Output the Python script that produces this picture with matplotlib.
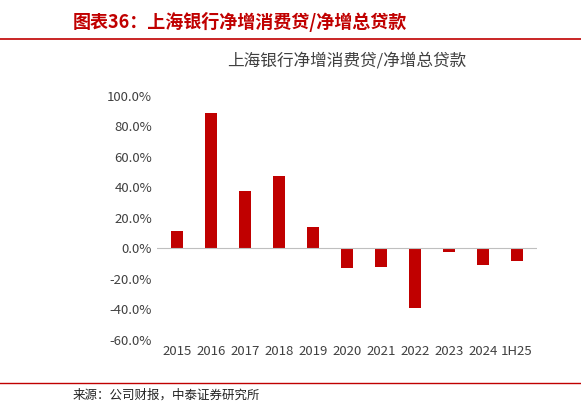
import matplotlib.pyplot as plt
from matplotlib.ticker import FuncFormatter

plt.rcParams['font.family'] = ['Noto Sans CJK SC', 'DejaVu Sans']

years = ["2015", "2016", "2017", "2018", "2019", "2020", "2021", "2022", "2023", "2024", "1H25"]
ratio = [11.0, 88.5, 37.5, 47.5, 14.0, -13.0, -12.5, -39.0, -2.5, -11.0, -8.5]

fig = plt.figure(figsize=(5.81, 4.07), dpi=100)
red = "#c00000"

fig.text(0.125, 0.945, "图表36：上海银行净增消费贷/净增总贷款", color=red,
         fontsize=13, fontweight="bold", style="italic", va="center")
fig.add_artist(plt.Line2D([0.0, 1.0], [0.905, 0.905], color=red, lw=1.2))
fig.add_artist(plt.Line2D([0.0, 1.0], [0.06, 0.06], color=red, lw=1.0))
fig.text(0.125, 0.03, "来源：公司财报，中泰证券研究所", fontsize=9, style="italic",
         va="center", color="#222222")

ax = fig.add_axes([0.27, 0.165, 0.655, 0.6])
x = range(len(years))
ax.bar(x, ratio, width=0.35, color=red)
ax.set_ylim(-60, 100)
ax.set_yticks(range(-60, 101, 20))
ax.yaxis.set_major_formatter(FuncFormatter(lambda v, p: f"{v:.1f}%"))
ax.set_xticks(list(x))
ax.set_xticklabels(years)
ax.set_xlim(-0.6, len(years) - 0.4)
ax.axhline(0, color="#bfbfbf", lw=0.8)
for s in ax.spines.values():
    s.set_visible(False)
ax.tick_params(length=0, labelsize=9.5, colors="#404040")
ax.set_title("上海银行净增消费贷/净增总贷款", fontsize=12, color="#404040", pad=22)

fig.savefig("out.png", dpi=100)
